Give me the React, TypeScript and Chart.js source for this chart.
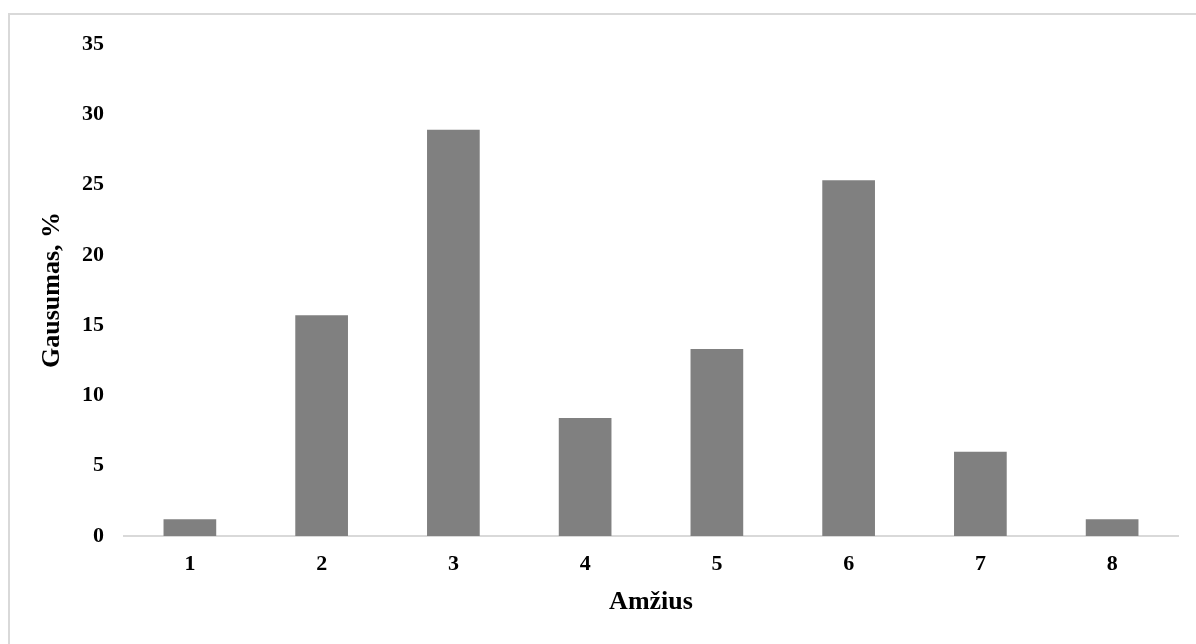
import React, { useEffect, useRef } from "react";
import { Chart, registerables } from "chart.js";

Chart.register(...registerables);

const categories = ["1", "2", "3", "4", "5", "6", "7", "8"];
const values = [1.2, 15.7, 28.9, 8.4, 13.3, 25.3, 6.0, 1.2];
const yTitle = "Gausumas, %";
const xTitle = "Amžius";

export default function App() {
  const ref = useRef<HTMLCanvasElement | null>(null);

  useEffect(() => {
    if (!ref.current) return;
    const font = "'Liberation Serif', 'Times New Roman', serif";
    const chart = new Chart(ref.current, {
      type: "bar",
      data: {
        labels: categories,
        datasets: [
          {
            data: values,
            backgroundColor: "#808080",
            borderWidth: 0,
            barPercentage: 0.4,
            categoryPercentage: 1,
          },
        ],
      },
      options: {
        animation: false,
        responsive: false,
        maintainAspectRatio: false,
        layout: { padding: { top: 44, right: 18, bottom: 0, left: 0 } },
        plugins: { legend: { display: false }, tooltip: { enabled: false } },
        scales: {
          x: {
            grid: { display: false, drawTicks: false },
            border: { display: true, color: "#d9d9d9", width: 2 },
            ticks: {
              color: "#000",
              padding: 15,
              font: { family: font, size: 22, weight: "bold" },
            },
            title: {
              display: true,
              text: xTitle,
              color: "#000",
              padding: { top: 0, bottom: 26 },
              font: { family: font, size: 26, weight: "bold" },
            },
            afterFit: (s: any) => {
              s.height = 108;
            },
          },
          y: {
            min: 0,
            max: 35,
            grid: { display: false, drawTicks: false },
            border: { display: false },
            ticks: {
              stepSize: 5,
              color: "#000",
              padding: 20,
              font: { family: font, size: 22, weight: "bold" },
            },
            title: {
              display: true,
              text: yTitle,
              color: "#000",
              padding: { top: 37, bottom: 0 },
              font: { family: font, size: 26, weight: "bold" },
            },
            afterFit: (s: any) => {
              s.width = 124;
            },
          },
        },
      },
    });
    return () => chart.destroy();
  }, []);

  return (
    <>
      <div
        style={{
          position: "fixed",
          left: 8,
          top: 13,
          width: 1300,
          height: 800,
          border: "2px solid #d9d9d9",
          boxSizing: "border-box",
        }}
      />
      <canvas
        ref={ref}
        width={1196}
        height={644}
        style={{ position: "fixed", left: 0, top: 0, width: 1196, height: 644 }}
      />
    </>
  );
}
